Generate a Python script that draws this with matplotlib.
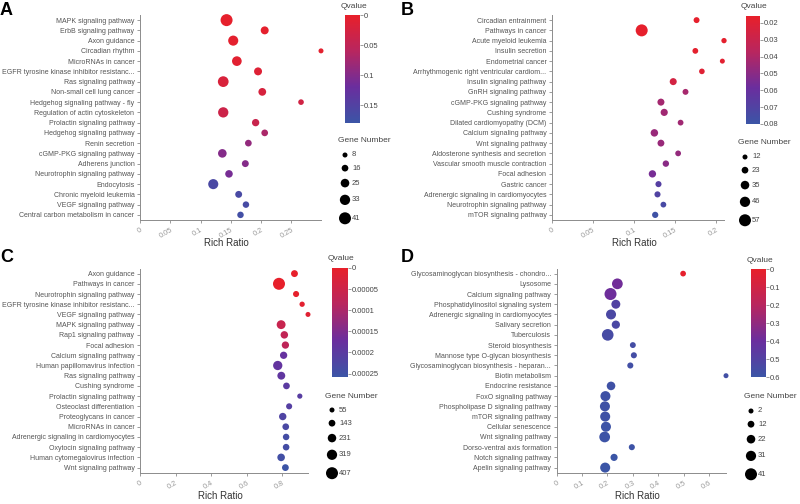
import numpy as np
import matplotlib as mpl
import matplotlib.pyplot as plt
from matplotlib.colors import LinearSegmentedColormap, Normalize

plt.rcParams['font.family'] = ['Liberation Sans', 'DejaVu Sans']

W, H = 800, 504

# ---- panel A ----
a_terms = ['MAPK signaling pathway', 'ErbB signaling pathway', 'Axon guidance', 'Circadian rhythm',
           'MicroRNAs in cancer', 'EGFR tyrosine kinase inhibitor resistanc...', 'Ras signaling pathway',
           'Non-small cell lung cancer', 'Hedgehog signaling pathway - fly', 'Regulation of actin cytoskeleton',
           'Prolactin signaling pathway', 'Hedgehog signaling pathway', 'Renin secretion',
           'cGMP-PKG signaling pathway', 'Adherens junction', 'Neurotrophin signaling pathway', 'Endocytosis',
           'Chronic myeloid leukemia', 'VEGF signaling pathway', 'Central carbon metabolism in cancer']
a_ratio = [0.143, 0.206, 0.154, 0.299, 0.160, 0.195, 0.1375, 0.202, 0.266, 0.1375,
           0.191, 0.206, 0.179, 0.136, 0.174, 0.147, 0.121, 0.163, 0.175, 0.166]
a_genes = [41, 22, 32, 8, 30, 22, 35, 21, 11, 33, 19, 16, 16, 25, 17, 20, 32, 17, 15, 15]
a_qvalue = [0.003, 0.004, 0.005, 0.006, 0.008, 0.012, 0.02, 0.022, 0.03, 0.035,
            0.04, 0.07, 0.088, 0.1, 0.1, 0.11, 0.16, 0.162, 0.165, 0.17]
a_qrange = (0, 0.18)
a_qticks = [0, 0.05, 0.1, 0.15]
a_qlabels = ['0', '0.05', '0.1', '0.15']
a_xticks = [0, 0.05, 0.1, 0.15, 0.2, 0.25]
a_gene_legend = [8, 16, 25, 33, 41]

# ---- panel B ----
b_terms = ['Circadian entrainment', 'Pathways in cancer', 'Acute myeloid leukemia', 'Insulin secretion',
           'Endometrial cancer', 'Arrhythmogenic right ventricular cardiom...', 'Insulin signaling pathway',
           'GnRH signaling pathway', 'cGMP-PKG signaling pathway', 'Cushing syndrome',
           'Dilated cardiomyopathy (DCM)', 'Calcium signaling pathway', 'Wnt signaling pathway',
           'Aldosterone synthesis and secretion', 'Vascular smooth muscle contraction', 'Focal adhesion',
           'Gastric cancer', 'Adrenergic signaling in cardiomyocytes', 'Neurotrophin signaling pathway',
           'mTOR signaling pathway']
b_ratio = [0.1765, 0.1095, 0.210, 0.175, 0.208, 0.183, 0.148, 0.163, 0.133, 0.137,
           0.157, 0.125, 0.133, 0.154, 0.139, 0.1226, 0.130, 0.1288, 0.136, 0.126]
b_genes = [18, 57, 14, 17, 12, 16, 25, 18, 25, 26, 17, 28, 24, 17, 21, 27, 19, 19, 17, 20]
b_qvalue = [0.017, 0.017, 0.018, 0.018, 0.019, 0.020, 0.026, 0.042, 0.043, 0.044,
            0.044, 0.046, 0.046, 0.047, 0.050, 0.055, 0.068, 0.070, 0.074, 0.078]
b_qrange = (0.016, 0.08)
b_qticks = [0.02, 0.03, 0.04, 0.05, 0.06, 0.07, 0.08]
b_qlabels = ['0.02', '0.03', '0.04', '0.05', '0.06', '0.07', '0.08']
b_xticks = [0, 0.05, 0.1, 0.15, 0.2]
b_gene_legend = [12, 23, 35, 46, 57]

# ---- panel C ----
c_terms = ['Axon guidance', 'Pathways in cancer', 'Neurotrophin signaling pathway',
           'EGFR tyrosine kinase inhibitor resistanc...', 'VEGF signaling pathway', 'MAPK signaling pathway',
           'Rap1 signaling pathway', 'Focal adhesion', 'Calcium signaling pathway',
           'Human papillomavirus infection', 'Ras signaling pathway', 'Cushing syndrome',
           'Prolactin signaling pathway', 'Osteoclast differentiation', 'Proteoglycans in cancer',
           'MicroRNAs in cancer', 'Adrenergic signaling in cardiomyocytes', 'Oxytocin signaling pathway',
           'Human cytomegalovirus infection', 'Wnt signaling pathway']
c_ratio = [0.868, 0.781, 0.877, 0.911, 0.944, 0.793, 0.811, 0.817, 0.807, 0.774,
           0.794, 0.823, 0.898, 0.838, 0.802, 0.819, 0.821, 0.821, 0.793, 0.817]
c_genes = [150, 407, 110, 70, 55, 250, 180, 170, 170, 270, 200, 140, 65, 110, 175, 140, 130, 135, 185, 145]
c_qvalue = [0.000002, 0.000002, 0.000005, 0.00001, 0.000015, 0.00006, 0.00007, 0.000075, 0.00018, 0.000185,
            0.00019, 0.0002, 0.000205, 0.00021, 0.00022, 0.00023, 0.00024, 0.00024, 0.000245, 0.000255]
c_qrange = (0, 0.000258)
c_qticks = [0, 0.00005, 0.0001, 0.00015, 0.0002, 0.00025]
c_qlabels = ['0', '0.00005', '0.0001', '0.00015', '0.0002', '0.00025']
c_xticks = [0, 0.2, 0.4, 0.6, 0.8]
c_gene_legend = [55, 143, 231, 319, 407]

# ---- panel D ----
d_terms = ['Glycosaminoglycan biosynthesis - chondro...', 'Lysosome', 'Calcium signaling pathway',
           'Phosphatidylinositol signaling system', 'Adrenergic signaling in cardiomyocytes',
           'Salivary secretion', 'Tuberculosis', 'Steroid biosynthesis', 'Mannose type O-glycan biosynthesis',
           'Glycosaminoglycan biosynthesis - heparan...', 'Biotin metabolism', 'Endocrine resistance',
           'FoxO signaling pathway', 'Phospholipase D signaling pathway', 'mTOR signaling pathway',
           'Cellular senescence', 'Wnt signaling pathway', 'Dorso-ventral axis formation',
           'Notch signaling pathway', 'Apelin signaling pathway']
d_ratio = [0.498, 0.239, 0.212, 0.233, 0.214, 0.233, 0.201, 0.300, 0.304, 0.290,
           0.667, 0.214, 0.192, 0.190, 0.191, 0.194, 0.189, 0.296, 0.226, 0.191]
d_genes = [6, 34, 41, 24, 30, 20, 39, 7, 8, 8, 2, 22, 30, 30, 30, 30, 34, 8, 14, 30]
d_qvalue = [0.01, 0.38, 0.39, 0.50, 0.53, 0.53, 0.55, 0.56, 0.56, 0.57,
            0.57, 0.58, 0.58, 0.58, 0.58, 0.59, 0.59, 0.59, 0.60, 0.60]
d_qrange = (0, 0.6)
d_qticks = [0, 0.1, 0.2, 0.3, 0.4, 0.5, 0.6]
d_qlabels = ['0', '0.1', '0.2', '0.3', '0.4', '0.5', '0.6']
d_xticks = [0, 0.1, 0.2, 0.3, 0.4, 0.5, 0.6]
d_gene_legend = [2, 12, 22, 31, 41]

cmap = LinearSegmentedColormap.from_list('q', ['#e8202a', '#b8265f', '#6a2e9e', '#3b55a6'])

panels = [
    dict(letter='A', terms=a_terms, ratio=a_ratio, genes=a_genes, q=a_qvalue, qrange=a_qrange,
         qticks=a_qticks, qlabels=a_qlabels, xticks=a_xticks, glegend=a_gene_legend,
         ax=(140, 321, 15, 220), cax=(345, 360, 15, 123), leg=(345, 155), lx=(0, 2)),
    dict(letter='B', terms=b_terms, ratio=b_ratio, genes=b_genes, q=b_qvalue, qrange=b_qrange,
         qticks=b_qticks, qlabels=b_qlabels, xticks=b_xticks, glegend=b_gene_legend,
         ax=(552, 724, 15, 220), cax=(746, 760, 16, 124), leg=(745, 157), lx=(401, 2)),
    dict(letter='C', terms=c_terms, ratio=c_ratio, genes=c_genes, q=c_qvalue, qrange=c_qrange,
         qticks=c_qticks, qlabels=c_qlabels, xticks=c_xticks, glegend=c_gene_legend,
         ax=(140, 308, 268.5, 472.7), cax=(332, 348, 268, 377), leg=(332, 410), lx=(0, 249)),
    dict(letter='D', terms=d_terms, ratio=d_ratio, genes=d_genes, q=d_qvalue, qrange=d_qrange,
         qticks=d_qticks, qlabels=d_qlabels, xticks=d_xticks, glegend=d_gene_legend,
         ax=(556.7, 726, 268.5, 472.7), cax=(751, 766, 269, 377), leg=(751, 411), lx=(401, 249)),
]


def box(x0, x1, y0, y1):
    return [x0 / W, 1 - y1 / H, (x1 - x0) / W, (y1 - y0) / H]


def diam(n, lo, hi):
    # dot diameter in pixels, 5 px for smallest legend value, 12 px for the largest
    return 5 + (np.asarray(n, float) - lo) / (hi - lo) * 7


def area(d):
    return (d * 72 / 100) ** 2


fig = plt.figure(figsize=(8, 5.04), dpi=100)
overlay = fig.add_axes([0, 0, 1, 1])
overlay.set_xlim(0, W)
overlay.set_ylim(H, 0)
overlay.axis('off')

grey = '#8c8c8c'
for p in panels:
    lo, hi = p['glegend'][0], p['glegend'][-1]
    norm = Normalize(*p['qrange'])
    ax = fig.add_axes(box(*p['ax']))
    y = np.arange(len(p['terms']))
    ax.scatter(p['ratio'], y, s=area(diam(p['genes'], lo, hi)), c=p['q'], cmap=cmap, norm=norm,
               edgecolors='none', zorder=3, clip_on=False)
    ax.set_ylim(len(p['terms']) - 0.5, -0.5)
    ax.set_xlim(0, max(p['ratio']))
    ax.set_yticks(y)
    ax.set_yticklabels(p['terms'], fontsize=5, color='#555555')
    ax.set_xticks(p['xticks'])
    ax.set_xticklabels(['%g' % t for t in p['xticks']], fontsize=5.3, color='#999999',
                       rotation=30, ha='right', rotation_mode='anchor')
    ax.tick_params(axis='y', length=2.5, width=0.6, color=grey, pad=1.5)
    ax.tick_params(axis='x', length=2.5, width=0.6, color=grey, pad=2.5)
    for s in ['top', 'right']:
        ax.spines[s].set_visible(False)
    for s in ['left', 'bottom']:
        ax.spines[s].set_color(grey)
        ax.spines[s].set_linewidth(0.7)
    ax.patch.set_alpha(0)
    x0, x1, y0, y1 = p['ax']
    overlay.text((x0 + x1) / 2 - 4, y1 + 23, 'Rich Ratio', fontsize=7, color='#333333',
                 ha='center', va='center')

    # colour bar
    cx0, cx1, cy0, cy1 = p['cax']
    cax = fig.add_axes(box(cx0, cx1, cy0, cy1))
    cb = mpl.colorbar.ColorbarBase(cax, cmap=cmap, norm=norm, orientation='vertical')
    cax.invert_yaxis()
    cb.outline.set_visible(False)
    cb.set_ticks(p['qticks'])
    cb.set_ticklabels(p['qlabels'])
    cax.tick_params(length=2, width=0.6, color=grey, labelsize=5.5, labelcolor='#444444', pad=1)
    overlay.text((cx0 + cx1) / 2 + 1, cy0 - 9, 'Qvalue', fontsize=6, color='#444444',
                 ha='center', va='center')

    # gene number legend
    lx, ly = p['leg']
    d = diam(p['glegend'], lo, hi)
    ys = [ly]
    for i in range(1, len(d)):
        ys.append(ys[-1] + 7.3 + (d[i - 1] + d[i]) / 2)
    overlay.scatter([lx] * len(d), ys, s=area(d), color='black', edgecolors='none')
    for yy, v in zip(ys, p['glegend']):
        overlay.text(lx + 7, yy, str(v), fontsize=5.5, color='#444444', va='center', ha='left')
    overlay.text(lx + 19, ly - 14, 'Gene Number', fontsize=6, color='#444444',
                 ha='center', va='center')

    overlay.text(p['lx'][0], p['lx'][1], p['letter'], fontsize=13, fontweight='bold',
                 ha='left', va='top')

fig.savefig('out.png', dpi=100)
